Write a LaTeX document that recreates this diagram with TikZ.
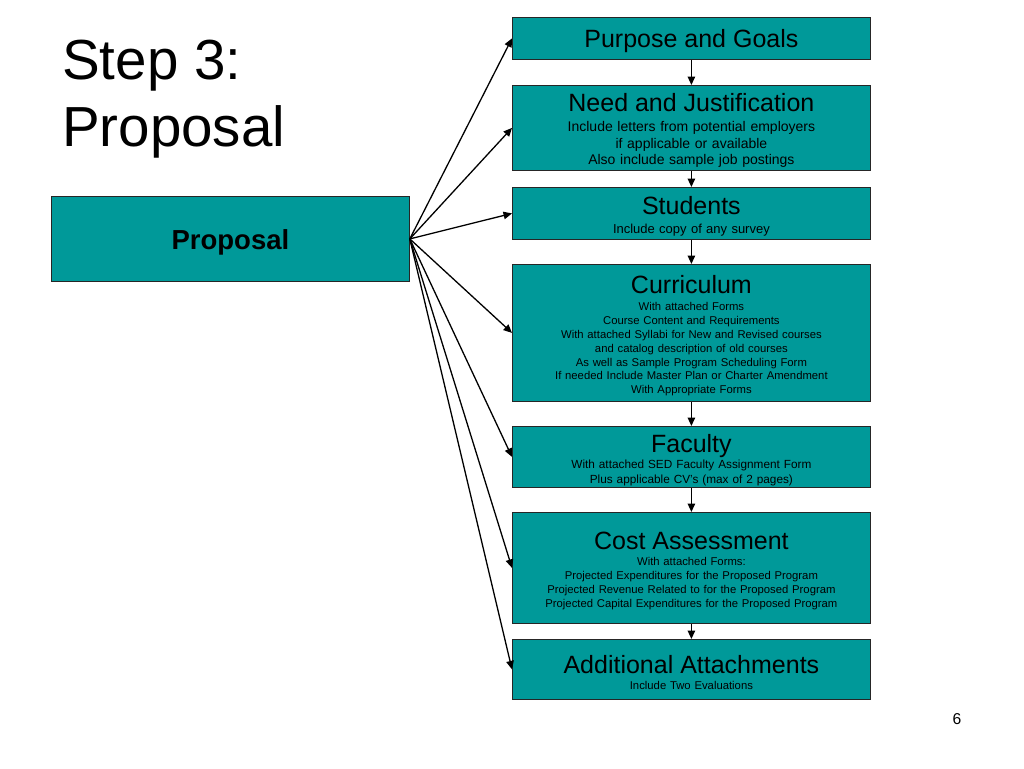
\documentclass[tikz,border=0pt]{standalone}
\usepackage{fontspec}
\setmainfont{Liberation Sans}
\usetikzlibrary{arrows.meta}
\definecolor{boxteal}{RGB}{0,153,153}
\newcommand\plainspaces{\spaceskip=\fontdimen2\font\xspaceskip=\fontdimen2\font\relax}
\newcommand\boxtitle[1]{{\fontsize{25}{25}\selectfont\plainspaces\rule{0pt}{24pt}#1}}
\begin{document}
\begin{tikzpicture}[x=1pt,y=-1pt,
  rbox/.style={draw=black!85, line width=0.8pt, fill=boxteal, minimum width=358pt,
    text width=354pt, align=center, inner sep=0pt, anchor=north west},
  arr/.style={-{Triangle[length=8.5pt,width=7.5pt]}, line width=1.3pt},
  fs14/.style={font=\fontsize{14}{16.5}\selectfont},
  fs13/.style={font=\fontsize{13}{16}\selectfont},
  fs12/.style={font=\fontsize{11.8}{15}\selectfont},
  fs11/.style={font=\fontsize{11.3}{13.9}\selectfont}
]
\useasboundingbox (0,0) rectangle (1024,768);
\fill[white] (0,0) rectangle (1024,768);

\node[anchor=north west, inner sep=0pt, text width=300pt, align=left,
  font=\fontsize{56.5}{67}\selectfont] (title) at (62,40) {\plainspaces Step 3:\\Proposal};

\node[draw=black!85, line width=0.8pt, fill=boxteal, minimum width=358pt, minimum height=85pt,
  inner sep=0pt, anchor=north west, font=\fontsize{27.5}{30}\selectfont\bfseries] (prop) at (51,196) {\rule{0pt}{26pt}Proposal};

\node[rbox, minimum height=42pt] (purpose) at (512,17) {\boxtitle{Purpose and Goals}};

\node[rbox, minimum height=85pt, fs14] (need) at (512,85)
  {\boxtitle{Need and Justification}\\[3.5pt]Include letters from potential employers\\if applicable or available\\Also include sample job postings};

\node[rbox, minimum height=52pt, fs13] (students) at (512,187)
  {\boxtitle{Students}\\[3pt]Include copy of any survey};

\node[rbox, minimum height=137pt, fs11] (curr) at (512,264)
  {\boxtitle{Curriculum}\\[3pt]With attached Forms\\Course Content and Requirements\\With attached Syllabi for New and Revised courses\\and catalog description of old courses\\As well as Sample Program Scheduling Form\\If needed Include Master Plan or Charter Amendment\\With Appropriate Forms};

\node[rbox, minimum height=61pt, fs12] (faculty) at (512,426)
  {\boxtitle{Faculty}\\[1pt]With attached SED Faculty Assignment Form\\Plus applicable CV's (max of 2 pages)};

\node[rbox, minimum height=111pt, fs11] (cost) at (512,512)
  {\boxtitle{Cost Assessment}\\[2pt]With attached Forms:\\Projected Expenditures for the Proposed Program\\Projected Revenue Related to for the Proposed Program\\Projected Capital Expenditures for the Proposed Program};

\node[rbox, minimum height=60pt, fs11] (addl) at (512,639)
  {\boxtitle{Additional Attachments}\\[2pt]Include Two Evaluations};

\node[anchor=base, inner sep=0pt, font=\fontsize{15.7}{18}\selectfont] (pagenum) at (957,724) {6};

\foreach \t in {purpose,need,students,curr,faculty,cost,addl}
  \draw[arr] (prop.east) -- (\t.west);

\draw[arr] (purpose.south) -- (need.north);
\draw[arr] (need.south) -- (students.north);
\draw[arr] (students.south) -- (curr.north);
\draw[arr] (curr.south) -- (faculty.north);
\draw[arr] (faculty.south) -- (cost.north);
\draw[arr] (cost.south) -- (addl.north);
\end{tikzpicture}
\end{document}
